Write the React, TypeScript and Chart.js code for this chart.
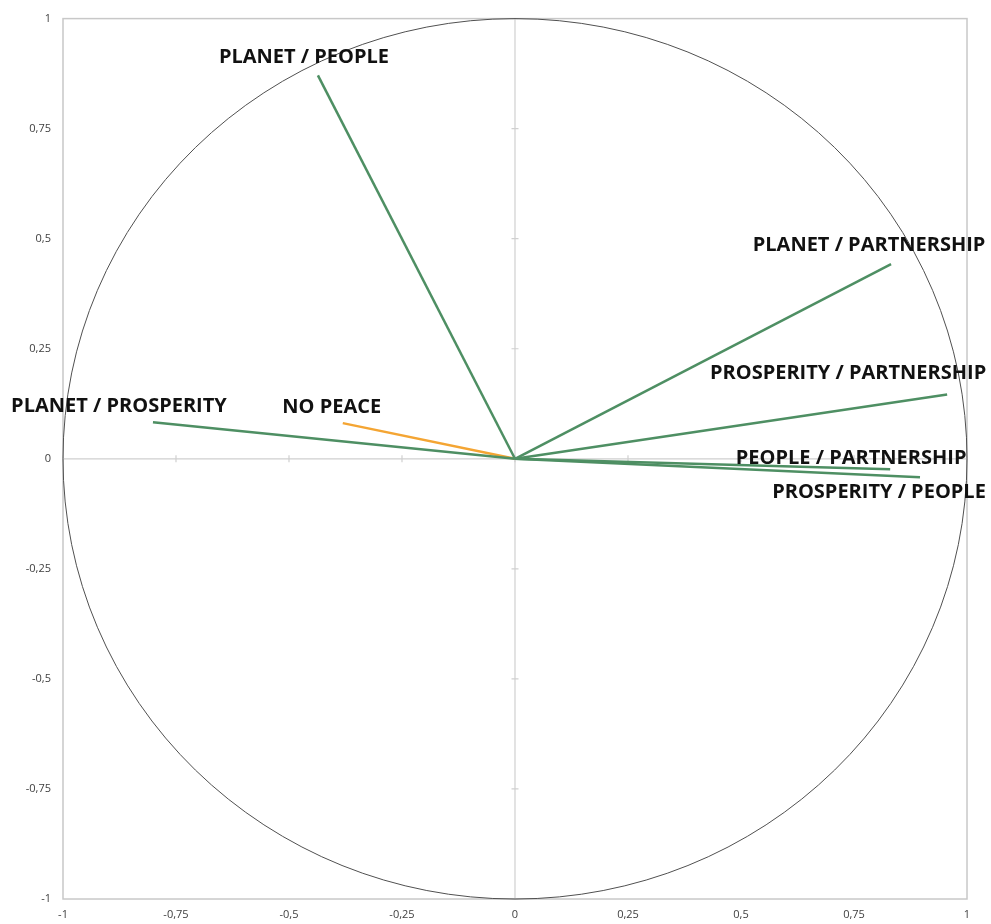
import React, { useEffect, useRef } from "react";
import { Chart, registerables } from "chart.js";

Chart.register(...registerables);

const vectorNames = [
  "PLANET / PEOPLE",
  "PLANET / PARTNERSHIP",
  "PROSPERITY / PARTNERSHIP",
  "PEOPLE / PARTNERSHIP",
  "PROSPERITY / PEOPLE",
  "PLANET / PROSPERITY",
  "NO PEACE",
];
const vectorX = [-0.436, 0.832, 0.956, 0.83, 0.896, -0.801, -0.381];
const vectorY = [0.871, 0.442, 0.146, -0.024, -0.042, 0.083, 0.081];
const vectorKind = ["pair", "pair", "pair", "pair", "pair", "pair", "single"];
const tickValues = [-1, -0.75, -0.5, -0.25, 0, 0.25, 0.5, 0.75, 1];

// label offsets (pixels) relative to vector end
const labelOffsets: [number, number][] = [
  [-14, -18],
  [-22, -19],
  [-99, -21],
  [-39, -11],
  [-41, 15],
  [-34, -16],
  [-11, -16],
];

const GREEN = "#4E8F63";
const ORANGE = "#F4A533";

const fmt = (v: number) => String(v).replace(".", ",");

const decorPlugin = {
  id: "decor",
  beforeDatasetsDraw(chart: any) {
    const { ctx, chartArea, scales } = chart;
    const xs = scales.x;
    const ys = scales.y;
    const cx = xs.getPixelForValue(0);
    const cy = ys.getPixelForValue(0);
    ctx.save();
    // frame
    ctx.strokeStyle = "#C8C8C8";
    ctx.lineWidth = 1.5;
    ctx.strokeRect(chartArea.left, chartArea.top, chartArea.right - chartArea.left, chartArea.bottom - chartArea.top);
    // center axes
    ctx.strokeStyle = "#D0D0D0";
    ctx.lineWidth = 1.2;
    ctx.beginPath();
    ctx.moveTo(cx, chartArea.top);
    ctx.lineTo(cx, chartArea.bottom);
    ctx.moveTo(chartArea.left, cy);
    ctx.lineTo(chartArea.right, cy);
    ctx.stroke();
    // tick marks
    ctx.beginPath();
    for (const t of tickValues) {
      const py = ys.getPixelForValue(t);
      ctx.moveTo(cx - 3.5, py);
      ctx.lineTo(cx + 3.5, py);
      const px = xs.getPixelForValue(t);
      ctx.moveTo(px, cy - 3.5);
      ctx.lineTo(px, cy + 3.5);
    }
    ctx.stroke();
    // unit circle
    const rx = xs.getPixelForValue(1) - cx;
    const ry = cy - ys.getPixelForValue(1);
    ctx.strokeStyle = "#505050";
    ctx.lineWidth = 1;
    ctx.beginPath();
    ctx.ellipse(cx, cy, rx, ry, 0, 0, Math.PI * 2);
    ctx.stroke();
    ctx.restore();
  },
  afterDatasetsDraw(chart: any) {
    const { ctx, scales } = chart;
    ctx.save();
    ctx.font = "bold 20px 'Open Sans'";
    ctx.fillStyle = "#111111";
    ctx.textAlign = "center";
    ctx.textBaseline = "middle";
    vectorNames.forEach((name, i) => {
      const px = scales.x.getPixelForValue(vectorX[i]) + labelOffsets[i][0];
      const py = scales.y.getPixelForValue(vectorY[i]) + labelOffsets[i][1];
      ctx.fillText(name, px, py);
    });
    ctx.restore();
  },
};

export default function App() {
  const ref = useRef<HTMLCanvasElement>(null);
  useEffect(() => {
    document.body.style.margin = "0";
    const datasets = vectorNames.map((name, i) => ({
      label: name,
      data: [
        { x: 0, y: 0 },
        { x: vectorX[i], y: vectorY[i] },
      ],
      showLine: true,
      borderColor: vectorKind[i] === "single" ? ORANGE : GREEN,
      backgroundColor: vectorKind[i] === "single" ? ORANGE : GREEN,
      borderWidth: 2.5,
      pointRadius: 0,
    }));
    const chart = new Chart(ref.current!, {
      type: "scatter",
      data: { datasets },
      options: {
        animation: false,
        responsive: false,
        layout: { padding: { top: 18, right: 24, left: 0, bottom: 0 } },
        plugins: { legend: { display: false }, tooltip: { enabled: false } },
        scales: {
          x: {
            type: "linear",
            min: -1,
            max: 1,
            afterBuildTicks: (s: any) => {
              s.ticks = tickValues.map((v) => ({ value: v }));
            },
            afterFit: (s: any) => {
              s.height = 25;
            },
            grid: { display: false, drawTicks: false },
            border: { display: false },
            ticks: {
              padding: 9,
              color: "#404040",
              font: { size: 11, family: "'Open Sans'" },
              callback: (v: any) => fmt(Number(v)),
            },
          },
          y: {
            type: "linear",
            min: -1,
            max: 1,
            afterBuildTicks: (s: any) => {
              s.ticks = tickValues.map((v) => ({ value: v }));
            },
            afterFit: (s: any) => {
              s.width = 63;
            },
            grid: { display: false, drawTicks: false },
            border: { display: false },
            ticks: {
              padding: 12,
              color: "#404040",
              font: { size: 11, family: "'Open Sans'" },
              callback: (v: any) => fmt(Number(v)),
            },
          },
        },
      },
      plugins: [decorPlugin],
    });
    return () => chart.destroy();
  }, []);
  return <canvas ref={ref} width={991} height={924} style={{ display: "block" }} />;
}
